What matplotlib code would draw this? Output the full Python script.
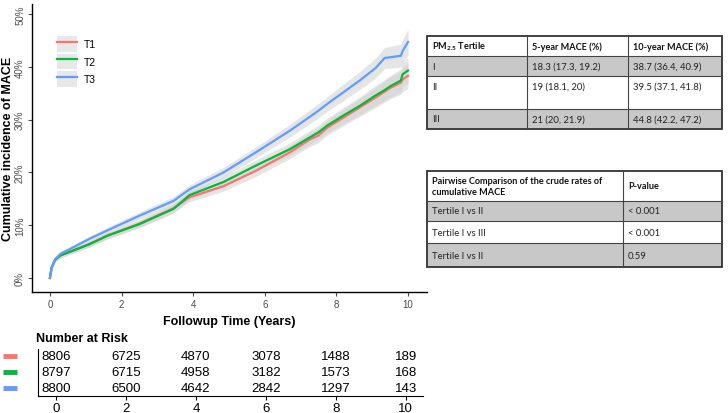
import matplotlib.pyplot as plt
import numpy as np
from matplotlib.patches import Rectangle, Patch
from matplotlib.lines import Line2D

plt.rcParams['font.family'] = ['Liberation Sans', 'DejaVu Sans']
plt.rcParams['mathtext.fontset'] = 'custom'
plt.rcParams['mathtext.rm'] = 'Lato'
plt.rcParams['mathtext.bf'] = 'Lato:bold'

# cumulative incidence (%)
years = [0, 0.05, 0.15, 0.3, 0.65, 1.1, 1.6, 2.5, 3.45, 3.9, 4.85, 5.75,
         6.7, 7.25, 7.5, 7.75, 8.2, 8.65, 9.1, 9.35, 9.5, 9.8, 9.85, 10]
t1 = [0, 2.0, 3.5, 4.3, 5.2, 6.4, 8.0, 10.3, 13.2, 15.3, 17.4, 20.3,
      23.8, 26.2, 27.0, 28.5, 30.4, 32.3, 34.2, 35.3, 36.0, 37.0, 37.6, 38.3]
t2 = [0, 2.0, 3.5, 4.3, 5.2, 6.4, 8.0, 10.2, 13.1, 15.7, 18.2, 21.3,
      24.4, 26.6, 27.6, 28.9, 30.8, 32.6, 34.6, 35.6, 36.3, 37.4, 38.6, 39.3]
t3 = [0, 2.0, 3.6, 4.6, 5.8, 7.4, 9.0, 11.8, 14.6, 16.8, 20.0, 23.8,
      27.9, 30.5, 31.7, 33.0, 35.2, 37.4, 39.8, 41.7, 41.8, 42.1, 43.0, 44.7]
ci_half = [0, 0.3, 0.4, 0.45, 0.5, 0.55, 0.6, 0.7, 0.8, 0.85, 0.95, 1.05,
           1.2, 1.3, 1.35, 1.4, 1.55, 1.7, 1.9, 2.0, 2.05, 2.2, 2.25, 2.4]

groups = ['T1', 'T2', 'T3']
colors = ['#F8766D', '#00BA38', '#619CFF']

risk_times = [0, 2, 4, 6, 8, 10]
risk_t1 = [8806, 6725, 4870, 3078, 1488, 189]
risk_t2 = [8797, 6715, 4958, 3182, 1573, 168]
risk_t3 = [8800, 6500, 4642, 2842, 1297, 143]

tab1_header = [r'$\mathbf{PM_{2.5}}$ Tertile', '5-year MACE (%)', '10-year MACE (%)']
tab1_rows = [['I', '18.3 (17.3, 19.2)', '38.7 (36.4, 40.9)'],
             ['II', '19 (18.1, 20)', '39.5 (37.1, 41.8)'],
             ['III', '21 (20, 21.9)', '44.8 (42.2, 47.2)']]
tab2_header = ['Pairwise Comparison of the crude rates of\ncumulative MACE', 'P-value']
tab2_rows = [['Tertile I vs II', '< 0.001'],
             ['Tertile I vs III', '< 0.001'],
             ['Tertile I vs II', '0.59']]

W, H = 728, 414
fig = plt.figure(figsize=(W / 100, H / 100), dpi=100)

def box(l, t, r, b):
    return [l / W, 1 - b / H, (r - l) / W, (b - t) / H]

# ---- main curve panel
ax = fig.add_axes(box(32, 5, 427, 293))
x = np.array(years)
ci = np.array(ci_half)
handles = []
for name, vals, c in zip(groups, [t1, t2, t3], colors):
    v = np.array(vals)
    ax.fill_between(x, v - ci, v + ci, color='#d0d0d0', alpha=0.55, lw=0)
for name, vals, c in zip(groups, [t1, t2, t3], colors):
    ax.plot(x, vals, color=c, lw=1.6)
    handles.append((Patch(facecolor='#e8e8e8', edgecolor='none'),
                    Line2D([], [], color=c, lw=1.6)))
ax.set_xlim(-0.5, 10.53)
ax.set_ylim(-2.65, 51.9)
ax.set_xticks(risk_times)
ax.set_yticks([0, 10, 20, 30, 40, 50])
ax.set_yticklabels(['0%', '10%', '20%', '30%', '40%', '50%'], rotation=90, va='center')
ax.tick_params(labelsize=7, colors='#4d4d4d', length=3, width=0.8, pad=2)
for s in ['top', 'right']:
    ax.spines[s].set_visible(False)
for s in ['left', 'bottom']:
    ax.spines[s].set_linewidth(1.0)
ax.set_ylabel('Cumulative incidence of MACE', fontsize=9, fontweight='bold')
ax.yaxis.set_label_coords(-0.046, 0.5)
ax.set_xlabel('Followup Time (Years)', fontsize=9, fontweight='bold', labelpad=4)
ax.legend(handles, groups, loc='upper left', bbox_to_anchor=(0.05, 0.906), frameon=False,
          fontsize=7.5, handlelength=1.9, handleheight=1.9, handletextpad=0.7,
          labelspacing=0.2, borderpad=0)

# ---- number at risk table
rax = fig.add_axes(box(38, 350, 423, 397))
for row, vals, c in zip([3, 2, 1], [risk_t1, risk_t2, risk_t3], colors):
    for t, n in zip(risk_times, vals):
        rax.text(t, row, str(n), ha='center', va='center', fontsize=9.5)
    rax.plot([-0.091, -0.055], [row, row], color=c, lw=3.5, solid_capstyle='butt',
             transform=rax.get_yaxis_transform(), clip_on=False)
rax.set_xlim(-0.514, 10.49)
rax.set_ylim(0.5, 3.44)
rax.set_xticks(risk_times)
rax.set_yticks([])
rax.tick_params(labelsize=9.5, length=3, pad=1)
for s in ['top', 'right']:
    rax.spines[s].set_visible(False)
rax.set_title('Number at Risk', loc='left', fontsize=9, fontweight='bold', pad=6, x=-0.005)

# ---- summary tables drawn in pixel space
tax = fig.add_axes([0, 0, 1, 1])
tax.set_xlim(0, W)
tax.set_ylim(H, 0)
tax.axis('off')
grey = '#c8c8c8'
tfont = ['Lato', 'DejaVu Sans']

def draw_table(cols, rows_y, header, rows, fills, text_y):
    for i in range(len(rows_y) - 1):
        tax.add_patch(Rectangle((cols[0], rows_y[i]), cols[-1] - cols[0],
                                rows_y[i + 1] - rows_y[i], facecolor=fills[i],
                                edgecolor='none'))
    for y in rows_y[1:-1]:
        tax.plot([cols[0], cols[-1]], [y, y], color='#444444', lw=0.8)
    for xx in cols[1:-1]:
        tax.plot([xx, xx], [rows_y[0], rows_y[-1]], color='#444444', lw=0.8)
    tax.add_patch(Rectangle((cols[0], rows_y[0]), cols[-1] - cols[0],
                            rows_y[-1] - rows_y[0], facecolor='none',
                            edgecolor='#333333', lw=1.3))
    for j, txt in enumerate(header):
        tax.text(cols[j] + 5, text_y[0], txt, fontsize=6.6, fontweight='bold',
                 family=tfont, va='center', ha='left', color='#111111', linespacing=1.3)
    for i, r in enumerate(rows):
        for j, txt in enumerate(r):
            tax.text(cols[j] + 5, text_y[i + 1], txt, fontsize=6.8, family=tfont,
                     va='center', ha='left', color='#222222')

draw_table([427, 527, 628, 722], [37, 57, 77, 110, 130], tab1_header, tab1_rows,
           ['white', grey, 'white', grey], [47, 67, 87, 120])
draw_table([427, 623, 722], [172, 202, 222, 244, 268], tab2_header, tab2_rows,
           ['white', grey, 'white', grey], [187, 212, 234, 257])

fig.savefig('out.png', dpi=100)
